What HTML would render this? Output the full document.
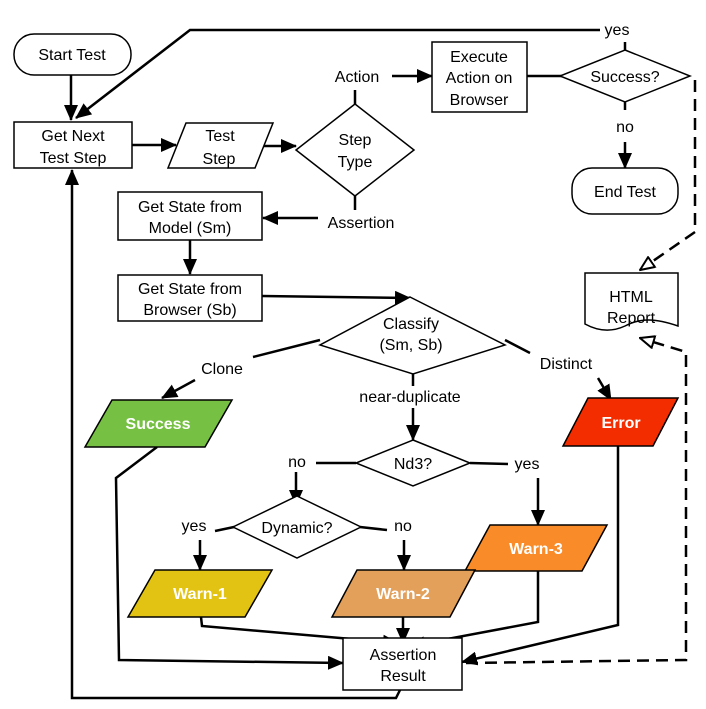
<!DOCTYPE html>
<html><head><meta charset="utf-8"><style>
html,body{margin:0;padding:0;background:#fff;}
svg{display:block;}
text{font-family:"Liberation Sans",sans-serif;font-size:16px;fill:#000;text-anchor:middle;}
.w{fill:#fff;font-weight:bold;}
</style></head><body>
<svg width="706" height="709" viewBox="0 0 706 709">
<defs>
<marker id="A" markerWidth="16" markerHeight="14" refX="15" refY="7" orient="auto" markerUnits="userSpaceOnUse"><path d="M0,0 L16,7 L0,14 z" fill="#000"/></marker>
<marker id="o" markerWidth="16" markerHeight="14" refX="15" refY="7" orient="auto" markerUnits="userSpaceOnUse"><path d="M1,1 L15,7 L1,13 z" fill="#fff" stroke="#000" stroke-width="2"/></marker>
</defs>
<g stroke="#000" stroke-width="2.5" fill="none">
<path d="M600,30 L190,30 L76,118" marker-end="url(#A)"/>
<line x1="625" y1="42" x2="625" y2="50"/>
<line x1="71" y1="75" x2="71" y2="120" marker-end="url(#A)"/>
<line x1="132" y1="145" x2="176" y2="145" marker-end="url(#A)"/>
<line x1="262" y1="146" x2="296" y2="146" marker-end="url(#A)"/>
<line x1="355" y1="104" x2="355" y2="90"/>
<line x1="392" y1="76" x2="432" y2="76" marker-end="url(#A)"/>
<line x1="527" y1="76" x2="562" y2="76"/>
<line x1="625" y1="102" x2="625" y2="110"/>
<line x1="625" y1="142" x2="625" y2="168" marker-end="url(#A)"/>
<line x1="355" y1="196" x2="355" y2="210"/>
<line x1="318" y1="218" x2="263" y2="218" marker-end="url(#A)"/>
<line x1="190" y1="240" x2="190" y2="274" marker-end="url(#A)"/>
<line x1="262" y1="296" x2="410" y2="298" marker-end="url(#A)"/>
<line x1="320" y1="340" x2="253" y2="357"/>
<line x1="505" y1="340" x2="530" y2="353"/>
<line x1="195" y1="380" x2="162" y2="398" marker-end="url(#A)"/>
<line x1="598" y1="378" x2="611" y2="400" marker-end="url(#A)"/>
<line x1="413" y1="374" x2="413" y2="386"/>
<line x1="413" y1="408" x2="413" y2="440" marker-end="url(#A)"/>
<line x1="316" y1="463" x2="356" y2="463"/>
<line x1="470" y1="463" x2="508" y2="464"/>
<line x1="296" y1="472" x2="296" y2="505" marker-end="url(#A)"/>
<line x1="538" y1="478" x2="538" y2="525" marker-end="url(#A)"/>
<line x1="215" y1="531" x2="234" y2="527"/>
<line x1="360" y1="527" x2="387" y2="530"/>
<line x1="200" y1="540" x2="200" y2="570" marker-end="url(#A)"/>
<line x1="404" y1="540" x2="404" y2="570" marker-end="url(#A)"/>
<path d="M157,447 L116,478 L119,660 L343,663" marker-end="url(#A)"/>
<path d="M201,617 L202,626 L398,643" marker-end="url(#A)"/>
<line x1="403" y1="617" x2="403" y2="643" marker-end="url(#A)"/>
<path d="M538,571 L538,622 L410,646" marker-end="url(#A)"/>
<path d="M618,446 L618,625 L462,662" marker-end="url(#A)"/>
<path d="M400,690 L396,698 L72,698 L72,170" marker-end="url(#A)"/>
<g stroke-dasharray="12,7">
<path d="M695,80 L695,232 L640,270" marker-end="url(#o)"/>
<path d="M466,663 L686,660 L686,352 L640,338" marker-end="url(#o)"/>
</g>
</g>
<g stroke="#000" stroke-width="1.5" fill="#fff">
<rect x="14" y="34" width="117" height="41" rx="20"/>
<rect x="14" y="122" width="118" height="46"/>
<polygon points="186,123 273,123 255,168 168,168"/>
<polygon points="355,104 414,150 355,196 296,150"/>
<rect x="432" y="42" width="95" height="70"/>
<polygon points="625,50 690,76 625,102 560,76"/>
<rect x="572" y="168" width="106" height="46" rx="20"/>
<path d="M585,273 L678,273 L678,326 C655,318 640,318 625,326 C610,333 596,330 585,324 Z"/>
<rect x="118" y="192" width="144" height="48"/>
<rect x="118" y="275" width="144" height="46"/>
<polygon points="410,297 505,345 413,374 320,345"/>
<polygon points="413,440 470,463 413,486 356,463"/>
<polygon points="297,496 361,527 297,558 233,527"/>
<polygon points="112,400 232,400 205,447 85,447" fill="#76c043"/>
<polygon points="588,398 678,398 653,446 563,446" fill="#f42d00"/>
<polygon points="490,525 607,525 582,571 465,571" fill="#f98b28"/>
<polygon points="155,570 272,570 245,617 128,617" fill="#e2c314"/>
<polygon points="357,570 475,570 450,617 332,617" fill="#e3a05a"/>
<rect x="343" y="638" width="119" height="52"/>
</g>
<text x="72" y="60">Start Test</text>
<text x="73" y="141">Get Next</text>
<text x="73" y="163">Test Step</text>
<text x="220" y="141">Test</text>
<text x="219" y="164">Step</text>
<text x="355" y="145">Step</text>
<text x="355" y="167">Type</text>
<text x="357" y="82">Action</text>
<text x="479" y="62">Execute</text>
<text x="479" y="83">Action on</text>
<text x="479" y="105">Browser</text>
<text x="625" y="82">Success?</text>
<text x="617" y="35">yes</text>
<text x="625" y="132">no</text>
<text x="625" y="197">End Test</text>
<text x="631" y="302">HTML</text>
<text x="631" y="323">Report</text>
<text x="361" y="228">Assertion</text>
<text x="190" y="212">Get State from</text>
<text x="190" y="233">Model (Sm)</text>
<text x="190" y="294">Get State from</text>
<text x="190" y="315">Browser (Sb)</text>
<text x="411" y="329">Classify</text>
<text x="411" y="350">(Sm, Sb)</text>
<text x="222" y="374">Clone</text>
<text x="566" y="369">Distinct</text>
<text x="410" y="402">near-duplicate</text>
<text x="413" y="469">Nd3?</text>
<text x="297" y="467">no</text>
<text x="527" y="469">yes</text>
<text x="297" y="533">Dynamic?</text>
<text x="194" y="531">yes</text>
<text x="403" y="531">no</text>
<text class="w" x="158" y="429">Success</text>
<text class="w" x="621" y="428">Error</text>
<text class="w" x="536" y="554">Warn-3</text>
<text class="w" x="200" y="599">Warn-1</text>
<text class="w" x="403" y="599">Warn-2</text>
<text x="403" y="660">Assertion</text>
<text x="403" y="681">Result</text>
</svg>
</body></html>
